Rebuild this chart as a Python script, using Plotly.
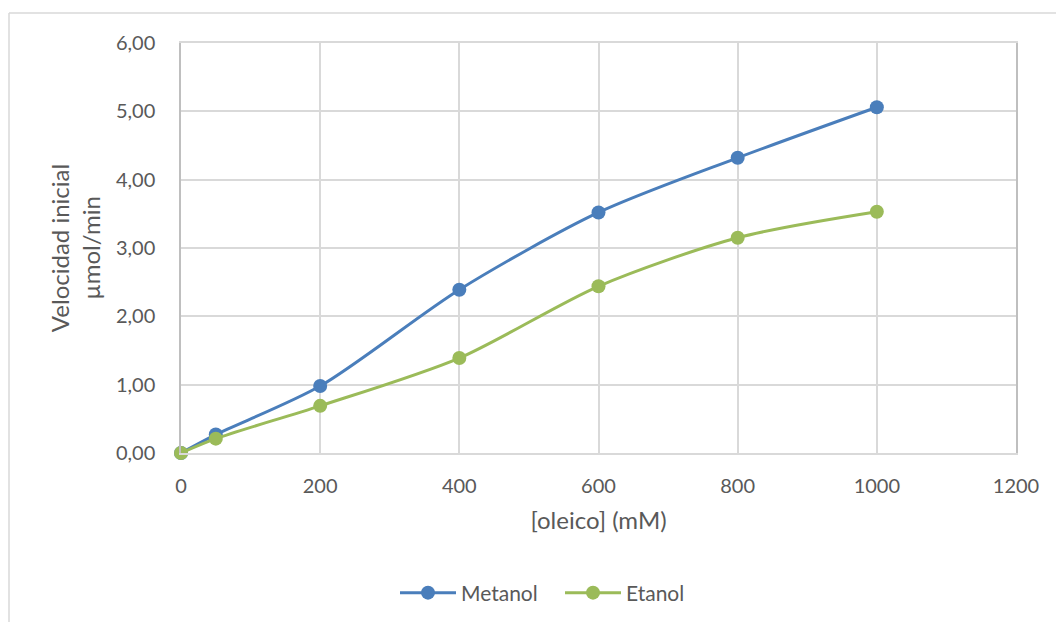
import plotly.graph_objects as go

# Oleic acid concentration (mM) and initial rate (µmol/min)
oleico = [0, 50, 200, 400, 600, 800, 1000]
metanol = [0.00, 0.27, 0.98, 2.39, 3.52, 4.32, 5.06]
etanol = [0.00, 0.21, 0.69, 1.39, 2.44, 3.15, 3.53]

x_ticks = [0, 200, 400, 600, 800, 1000, 1200]
y_ticks = [0, 1, 2, 3, 4, 5, 6]
y_tick_text = ["0,00", "1,00", "2,00", "3,00", "4,00", "5,00", "6,00"]

FONT = "Lato, 'Open Sans', sans-serif"
TXT = "#595959"
GRID = "#D9D9D9"

fig = go.Figure()
fig.add_trace(go.Scatter(
    x=oleico, y=metanol, name="Metanol", mode="lines+markers", cliponaxis=False,
    line=dict(color="#4A7EBB", width=3, shape="spline", smoothing=0.8),
    marker=dict(color="#4A7EBB", size=14),
))
fig.add_trace(go.Scatter(
    x=oleico, y=etanol, name="Etanol", mode="lines+markers", cliponaxis=False,
    line=dict(color="#9BBB59", width=3, shape="spline", smoothing=0.8),
    marker=dict(color="#9BBB59", size=14),
))

W, H = 1056, 622
L, R, T, B = 181, 40, 43, 169
pw, ph = W - L - R, H - T - B

def px(xpix):
    return (xpix - L) / pw

def py(ypix):
    return (H - B - ypix) / ph

# Light outer frame of the chart area
fig.add_shape(type="line", xref="paper", yref="paper",
              x0=px(9), x1=px(1056), y0=py(13), y1=py(13),
              line=dict(color="#D9D9D9", width=1.5))
fig.add_shape(type="line", xref="paper", yref="paper",
              x0=px(9), x1=px(9), y0=py(13), y1=py(622),
              line=dict(color="#D9D9D9", width=1.5))

fig.update_layout(
    width=W, height=H,
    margin=dict(l=L, r=R, t=T, b=B, autoexpand=False),
    paper_bgcolor="white", plot_bgcolor="white",
    font=dict(family=FONT, size=20, color=TXT),
    showlegend=True,
    legend=dict(orientation="h", x=px(395), xanchor="left", y=py(593), yanchor="middle",
                font=dict(size=21, color=TXT), traceorder="normal",
                itemwidth=56, entrywidth=94, entrywidthmode="pixels"),
    xaxis=dict(
        range=[0, 1200], tickvals=x_ticks, showgrid=True, gridcolor=GRID, gridwidth=1.5,
        zeroline=False, showline=True, linecolor=GRID, linewidth=1.5, mirror=True,
        ticks="", ticklabelstandoff=14,
        tickfont=dict(size=20),
        title=dict(text="[oleico] (mM)", font=dict(size=24, color=TXT), standoff=16),
    ),
    yaxis=dict(
        range=[0, 6], tickvals=y_ticks, ticktext=y_tick_text, showgrid=True,
        gridcolor=GRID, gridwidth=1.5, zeroline=False, showline=True,
        linecolor="#BFBFBF", linewidth=1.5, mirror=True, ticks="", ticklabelstandoff=20,
        tickfont=dict(size=20),
        title=dict(text="Velocidad inicial<br>µmol/min", font=dict(size=24, color=TXT),
                   standoff=8),
    ),
)

fig.write_html("out.html")
